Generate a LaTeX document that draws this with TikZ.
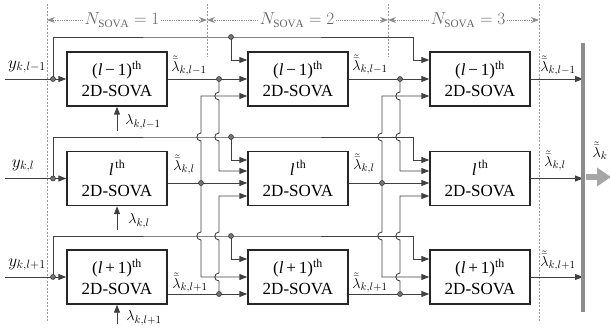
\documentclass[tikz,border=0pt]{standalone}
\usepackage{fontspec}
\setmainfont{Liberation Serif}
\usetikzlibrary{arrows.meta}
\begin{document}
\begin{tikzpicture}[x=1pt,y=-1pt,
  blk/.style={draw=black!85, line width=1.4pt, minimum width=100pt, minimum height=54pt,
    align=center, font=\fontsize{17}{21}\selectfont, inner sep=0pt},
  ln/.style={draw=black!75, line width=0.9pt},
  arr/.style={ln, -{Triangle[length=8pt,width=6pt]}},
  dot/.style={circle, fill=black!55, draw=black!80, line width=0.5pt, inner sep=0pt, minimum size=5pt},
  sep/.style={draw=black!40, line width=1pt, dash pattern=on 2pt off 1.5pt},
  dim/.style={draw=black!45, line width=0.8pt, densely dotted, -{Stealth[length=8pt,width=6pt]}},
  ylab/.style={font=\fontsize{17}{18}\selectfont, inner sep=0pt},
  olab/.style={font=\fontsize{15}{16}\selectfont, inner sep=0pt},
  ilab/.style={font=\fontsize{15}{16}\selectfont, inner sep=0pt},
  nlab/.style={font=\fontsize{16}{18}\selectfont, text=black!60, inner sep=2pt},
  hopd/.style 2 args={insert path={-- (#1,#2-4) .. controls (#1-5.5,#2-4) and (#1-5.5,#2+4) .. (#1,#2+4)}},
  hopu/.style 2 args={insert path={-- (#1,#2+4) .. controls (#1-5.5,#2+4) and (#1-5.5,#2-4) .. (#1,#2-4)}}
]
\useasboundingbox (0,0) rectangle (610,331);

% separators
\draw[sep] (47,4) -- (47,322);
\draw[sep] (207,4) -- (207,57);
\draw[sep] (388,4) -- (388,57);
\draw[sep] (539,4) -- (539,322);

% dimension labels
\node[nlab] (N1) at (122,20) {$N_{\mathrm{SOVA}}=1$};
\node[nlab] (N2) at (297,20) {$N_{\mathrm{SOVA}}=2$};
\node[nlab] (N3) at (468,20) {$N_{\mathrm{SOVA}}=3$};
\coordinate (s0) at (47,20);
\coordinate (s1) at (207,20);
\coordinate (s2) at (388,20);
\coordinate (s3) at (539,20);
\draw[dim] (N1.west) -- (s0);
\draw[dim] (N1.east) -- (s1);
\draw[dim] (N2.west) -- (s1);
\draw[dim] (N2.east) -- (s2);
\draw[dim] (N3.west) -- (s2);
\draw[dim] (N3.east) -- (s3);

% blocks
\node[blk] (B11) at (117,79) {(\textit{l}\,−\,1)\textsuperscript{th}\\2D-SOVA};
\node[blk] (B12) at (298,79) {(\textit{l}\,−\,1)\textsuperscript{th}\\2D-SOVA};
\node[blk] (B13) at (480,79) {(\textit{l}\,−\,1)\textsuperscript{th}\\2D-SOVA};
\node[blk] (B21) at (117,178.5) {\textit{l}\textsuperscript{\,th}\\2D-SOVA};
\node[blk] (B22) at (298,178.5) {\textit{l}\textsuperscript{\,th}\\2D-SOVA};
\node[blk] (B23) at (480,178.5) {\textit{l}\textsuperscript{\,th}\\2D-SOVA};
\node[blk] (B31) at (117,277) {(\textit{l}\,+\,1)\textsuperscript{th}\\2D-SOVA};
\node[blk] (B32) at (298,277) {(\textit{l}\,+\,1)\textsuperscript{th}\\2D-SOVA};
\node[blk] (B33) at (480,277) {(\textit{l}\,+\,1)\textsuperscript{th}\\2D-SOVA};

% junction coordinates
\coordinate (st1) at (5,79);
\coordinate (st2) at (5,178.5);
\coordinate (st3) at (5,277);
\coordinate (i1) at (53,79);
\coordinate (i2) at (53,178.5);
\coordinate (i3) at (53,277);
\coordinate (c1) at (231,37);
\coordinate (c2) at (231,137);
\coordinate (c3) at (231,236);
\coordinate (e1) at (413,37);
\coordinate (e2) at (413,137);
\coordinate (e3) at (413,236);
\coordinate (a1) at (201,183);
\coordinate (bt1) at (219,79);
\coordinate (bb1) at (219,294);
\coordinate (a2) at (382,183);
\coordinate (bt2) at (400,79);
\coordinate (bb2) at (400,294);
\coordinate (bar1) at (583,43);
\coordinate (bar2) at (583,312);

% channel inputs
\draw[arr] (st1) -- (B11.west);
\draw[arr] (st2) -- (B21.west);
\draw[arr] (st3) -- (B31.west);
\draw[ln] (i1) -- (i1 |- c1) -- (c1) -- (e1);
\draw[ln] (i2) -- (i2 |- c2) -- (c2) -- (e2);
\draw[ln] (i3) -- (i3 |- c3) -- (c3) -- (e3);
\draw[arr] (c1) -- (231,60) -- (B12.west |- 0,60);
\draw[arr] (c2) -- (231,160) -- (B22.west |- 0,160);
\draw[arr] (c3) -- (231,259) -- (B32.west |- 0,259);
\draw[arr] (e1) -- (413,60) -- (B13.west |- 0,60);
\draw[arr] (e2) -- (413,160) -- (B23.west |- 0,160);
\draw[arr] (e3) -- (413,259) -- (B33.west |- 0,259);

% a priori inputs
\coordinate (p1) at (117,131);
\coordinate (p2) at (117,230);
\coordinate (p3) at (117,324);
\draw[arr] (p1) -- (B11.south);
\draw[arr] (p2) -- (B21.south);
\draw[arr] (p3) -- (B31.south);

% stage outputs, column 1 -> 2
\draw[arr] (B11.east) -- (B12.west);
\draw[arr] (B21.east |- a1) -- (B22.west |- a1);
\draw[arr] (B31.east |- bb1) -- (B32.west |- bb1);
% column 2 -> 3
\draw[arr] (B12.east) -- (B13.west);
\draw[arr] (B22.east |- a2) -- (B23.west |- a2);
\draw[arr] (B32.east |- bb2) -- (B33.west |- bb2);

% cross connections, region 1
\draw[arr] (a1) [hopu={201}{137}] -- (201,96) -- (B12.west |- 0,96);
\draw[arr] (a1) [hopd={201}{236}] -- (201,277) -- (B32.west |- 0,277);
\draw[arr] (bt1) [hopd={219}{96}] [hopd={219}{137}] -- (219,171) -- (B22.west |- 0,171);
\draw[arr] (bb1) [hopu={219}{277}] [hopu={219}{236}] -- (219,196) -- (B22.west |- 0,196);
% cross connections, region 2
\draw[arr] (a2) [hopu={382}{137}] -- (382,96) -- (B13.west |- 0,96);
\draw[arr] (a2) [hopd={382}{236}] -- (382,277) -- (B33.west |- 0,277);
\draw[arr] (bt2) [hopd={400}{96}] [hopd={400}{137}] -- (400,171) -- (B23.west |- 0,171);
\draw[arr] (bb2) [hopu={400}{277}] [hopu={400}{236}] -- (400,196) -- (B23.west |- 0,196);

% final outputs
\draw[arr] (B13.east) -- (bar1 |- B13.east);
\draw[arr] (B23.east) -- (bar1 |- B23.east);
\draw[arr] (B33.east) -- (bar1 |- B33.east);
\draw[draw=black!45, line width=4pt] (bar1) -- (bar2);
\coordinate (o1) at (586,177);
\coordinate (o2) at (611,177);
\draw[draw=black!35, line width=6pt, -{Triangle[length=14pt,width=18pt]}] (o1) -- (o2);

% dots
\foreach \p in {i1,i2,i3,c1,c2,c3,a1,bt1,bb1,a2,bt2,bb2}
  \node[dot] (\p-dot) at (\p) {};

% labels
\node[ylab] (ly1) at (27,67) {$y_{k,l-1}$};
\node[ylab] (ly2) at (23,166) {$y_{k,l}$};
\node[ylab] (ly3) at (27,265) {$y_{k,l+1}$};
\node[ilab] (lp1) at (143,122) {$\lambda_{k,l-1}$};
\node[ilab] (lp2) at (139,221) {$\lambda_{k,l}$};
\node[ilab] (lp3) at (144,318) {$\lambda_{k,l+1}$};
\node[olab] (lo11) at (189,66) {$\tilde{\bar{\lambda}}_{k,l-1}$};
\node[olab] (lo21) at (184,165) {$\tilde{\bar{\lambda}}_{k,l}$};
\node[olab] (lo31) at (190,283) {$\tilde{\bar{\lambda}}_{k,l+1}$};
\node[olab] (lo12) at (370,65) {$\tilde{\bar{\lambda}}_{k,l-1}$};
\node[olab] (lo22) at (364,164) {$\tilde{\bar{\lambda}}_{k,l}$};
\node[olab] (lo32) at (370,283) {$\tilde{\bar{\lambda}}_{k,l+1}$};
\node[olab] (lo13) at (558,66) {$\tilde{\bar{\lambda}}_{k,l-1}$};
\node[olab] (lo23) at (555,161) {$\tilde{\bar{\lambda}}_{k,l}$};
\node[olab] (lo33) at (558,261) {$\tilde{\bar{\lambda}}_{k,l+1}$};
\node[olab] (lout) at (600,151) {$\tilde{\bar{\lambda}}_{k}$};
\end{tikzpicture}
\end{document}
